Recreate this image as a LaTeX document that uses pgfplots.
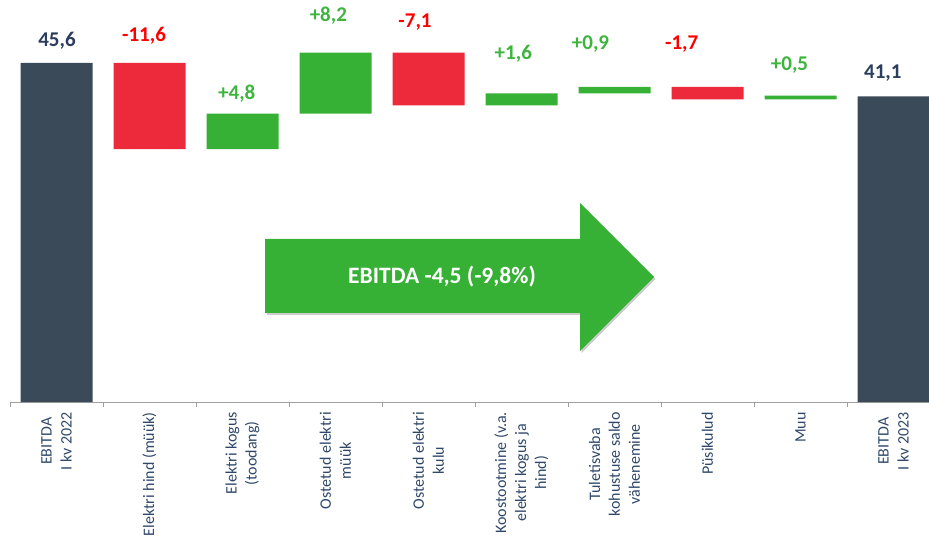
\documentclass[border=0pt]{standalone}
\usepackage{fontspec}
\setmainfont{Carlito}
\usepackage{pgfplots}
\usepackage{pgfplotstable}
\pgfplotsset{compat=1.18}
\usetikzlibrary{shadows}
\definecolor{darkbar}{RGB}{59,74,89}
\definecolor{redbar}{RGB}{236,42,60}
\definecolor{greenbar}{RGB}{54,177,54}
\definecolor{darklab}{RGB}{44,62,94}
\definecolor{redlab}{RGB}{255,0,0}
\definecolor{greenlab}{RGB}{61,181,61}
\definecolor{catlab}{RGB}{47,72,106}
\definecolor{axisgray}{RGB}{160,160,160}

\pgfplotstableread{
x base total red green
0 0    45.6 0    0
1 34.0 0    11.6 0
2 34.0 0    0    4.8
3 38.8 0    0    8.2
4 39.9 0    7.1  0
5 39.9 0    0    1.6
6 41.5 0    0    0.9
7 40.7 0    1.7  0
8 40.7 0    0    0.5
9 0    41.1 0    0
}\wf

\pgfplotstableread{
x y lab
0.005 48.6 45,6
8.885 44.2 41,1
}\labdark
\pgfplotstableread{
x y lab
0.941 49.2 -11,6
3.855 51.1 -7,1
6.722 48.2 -1,7
}\labred
\pgfplotstableread{
x y lab
1.938 41.45 +4,8
2.923 51.9 +8,2
4.912 46.85 +1,6
5.742 48.2 +0,9
7.882 45.35 +0,5
}\labgreen

\begin{document}
\begin{tikzpicture}
\useasboundingbox (0pt,0pt) rectangle (929pt,536pt);
\begin{axis}[
  at={(10pt,134pt)}, anchor=south west,
  scale only axis, width=930pt, height=402pt,
  xmin=-0.5, xmax=9.5, ymin=0, ymax=54.07,
  ybar stacked, bar width=72pt,
  axis y line=none, axis x line*=bottom,
  ytick=\empty,
  xtick={0,...,9},
  xticklabels={{EBITDA\\I kv 2022},{Elektri hind (müük)},{Elektri kogus\\(toodang)},{Ostetud elektri\\müük},{Ostetud elektri\\kulu},{Koostootmine (v.a.\\elektri kogus ja\\hind)},{Tuletisvaba\\kohustuse saldo\\vähenemine},{Püsikulud},{Muu},{EBITDA\\I kv 2023}},
  major tick length=0pt,
  minor xtick={-0.5,0.5,...,9.5},
  tick align=outside, minor tick length=5pt,
  minor tick style={draw=axisgray, line width=1pt},
  x axis line style={draw=axisgray, line width=1pt},
  xticklabel style={rotate=90, anchor=east, align=center, inner sep=0pt,
    font=\fontsize{16}{20}\selectfont, text=catlab},
  xticklabel shift=10pt,
]
\addplot[draw=none, fill=none] table[x=x,y=base]{\wf};
\addplot[draw=none, fill=darkbar] table[x=x,y=total]{\wf};
\addplot[draw=none, fill=redbar] table[x=x,y=red]{\wf};
\addplot[draw=none, fill=greenbar] table[x=x,y=green]{\wf};
\end{axis}
\begin{axis}[
  at={(10pt,134pt)}, anchor=south west,
  scale only axis, width=930pt, height=402pt,
  xmin=-0.5, xmax=9.5, ymin=0, ymax=54.07,
  hide axis, clip=false,
]
\addplot[draw=none, mark=none, nodes near coords, point meta=explicit symbolic,
  nodes near coords style={anchor=center, font=\bfseries\fontsize{21}{25}\selectfont, text=darklab}]
  table[x=x,y=y,meta=lab]{\labdark};
\addplot[draw=none, mark=none, nodes near coords, point meta=explicit symbolic,
  nodes near coords style={anchor=center, font=\bfseries\fontsize{21}{25}\selectfont, text=redlab}]
  table[x=x,y=y,meta=lab]{\labred};
\addplot[draw=none, mark=none, nodes near coords, point meta=explicit symbolic,
  nodes near coords style={anchor=center, font=\bfseries\fontsize{21}{25}\selectfont, text=greenlab}]
  table[x=x,y=y,meta=lab]{\labgreen};
\end{axis}
\fill[greenbar, drop shadow={shadow xshift=1.5pt, shadow yshift=-2pt, opacity=0.2, fill=black}]
  (265pt,297pt) -- (580pt,297pt) -- (580pt,333pt) -- (654pt,259pt) -- (580pt,185pt) -- (580pt,223pt) -- (265pt,223pt) -- cycle;
\node[text=white, font=\bfseries\fontsize{23.5}{28}\selectfont] at (442pt,259pt) {EBITDA -4,5 (-9,8\%)};
\end{tikzpicture}
\end{document}
